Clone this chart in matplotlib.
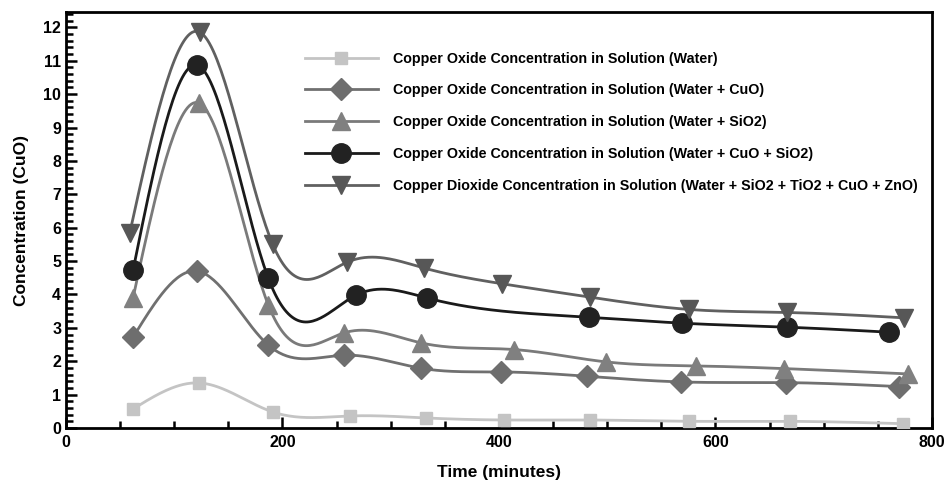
import numpy as np
import matplotlib.pyplot as plt
from matplotlib.ticker import MultipleLocator

# --- data ---
t_water = [62, 123, 191, 262, 333, 405, 484, 576, 669, 773]
c_water = [0.57, 1.35, 0.48, 0.36, 0.30, 0.24, 0.24, 0.20, 0.20, 0.13]

t_cuo = [62, 121, 187, 257, 328, 402, 481, 568, 665, 770]
c_cuo = [2.72, 4.70, 2.48, 2.18, 1.79, 1.68, 1.55, 1.38, 1.36, 1.24]

t_sio2 = [62, 123, 187, 257, 328, 414, 499, 582, 663, 778]
c_sio2 = [3.90, 9.73, 3.68, 2.85, 2.55, 2.35, 1.98, 1.86, 1.78, 1.62]

t_cuo_sio2 = [62, 121, 187, 268, 334, 483, 569, 666, 760]
c_cuo_sio2 = [4.73, 10.87, 4.48, 3.98, 3.89, 3.32, 3.14, 3.02, 2.87]

t_mix = [59, 124, 191, 260, 331, 403, 484, 576, 666, 774]
c_mix = [5.85, 11.85, 5.50, 4.97, 4.79, 4.32, 3.92, 3.55, 3.46, 3.30]

labels = [
    "Copper Oxide Concentration in Solution (Water)",
    "Copper Oxide Concentration in Solution (Water + CuO)",
    "Copper Oxide Concentration in Solution (Water + SiO2)",
    "Copper Oxide Concentration in Solution (Water + CuO + SiO2)",
    "Copper Dioxide Concentration in Solution (Water + SiO2 + TiO2 + CuO + ZnO)",
]


def spline(x, y, n=400):
    # natural cubic spline, just for the smooth line look
    x = np.asarray(x, float)
    y = np.asarray(y, float)
    k = len(x)
    h = np.diff(x)
    A = np.zeros((k, k))
    b = np.zeros(k)
    A[0, 0] = A[-1, -1] = 1
    for i in range(1, k - 1):
        A[i, i - 1] = h[i - 1]
        A[i, i] = 2 * (h[i - 1] + h[i])
        A[i, i + 1] = h[i]
        b[i] = 6 * ((y[i + 1] - y[i]) / h[i] - (y[i] - y[i - 1]) / h[i - 1])
    m = np.linalg.solve(A, b)
    xs = np.linspace(x[0], x[-1], n)
    j = np.clip(np.searchsorted(x, xs) - 1, 0, k - 2)
    dx = xs - x[j]
    hj = h[j]
    a = (m[j + 1] - m[j]) / (6 * hj)
    bb = m[j] / 2
    c = (y[j + 1] - y[j]) / hj - hj * (2 * m[j] + m[j + 1]) / 6
    return xs, y[j] + c * dx + bb * dx ** 2 + a * dx ** 3


plt.rcParams['font.family'] = ['Liberation Sans', 'DejaVu Sans']
plt.rcParams['font.weight'] = 'bold'

fig = plt.figure(figsize=(9.48, 4.84), dpi=100)
ax = fig.add_axes([0.0696, 0.1157, 0.9134, 0.8595])

series = [
    (t_water, c_water, 's', '#c4c4c4', '#c4c4c4', 9),
    (t_cuo, c_cuo, 'D', '#6e6e6e', '#707070', 11),
    (t_sio2, c_sio2, '^', '#808080', '#7a7a7a', 13),
    (t_cuo_sio2, c_cuo_sio2, 'o', '#222222', '#1a1a1a', 14),
    (t_mix, c_mix, 'v', '#575757', '#606060', 13),
]

for (tx, cy, mk, mc, lc, ms), lab in zip(series, labels):
    xs, ys = spline(tx, cy)
    ax.plot(xs, ys, color=lc, lw=2, zorder=2)
    ax.plot(tx, cy, ls='none', marker=mk, ms=ms, color=mc, mec=mc, zorder=3)
    ax.plot([], [], color=lc, lw=2, marker=mk, ms=ms, mfc=mc, mec=mc, label=lab)

ax.set_xlim(0, 800)
ax.set_ylim(0, 12.46)
ax.xaxis.set_major_locator(MultipleLocator(200))
ax.xaxis.set_minor_locator(MultipleLocator(50))
ax.yaxis.set_major_locator(MultipleLocator(1))
ax.yaxis.set_minor_locator(MultipleLocator(0.2))
ax.tick_params(which='both', direction='in', width=1.8, labelsize=11.5)
ax.tick_params(which='major', length=8)
ax.tick_params(which='minor', length=5)
ax.tick_params(axis='x', pad=5)
for s in ax.spines.values():
    s.set_linewidth(2)

ax.set_xlabel("Time (minutes)", fontsize=12.5, fontweight='bold', labelpad=11)
ax.set_ylabel("Concentration (CuO)", fontsize=12.5, fontweight='bold', labelpad=10)

leg = ax.legend(loc='upper left', bbox_to_anchor=(0.276, 0.905), frameon=False,
                fontsize=10.3, handlelength=5.1, handletextpad=1.05,
                labelspacing=1.25, borderaxespad=0, borderpad=0)
for txt in leg.get_texts():
    txt.set_fontweight('bold')

fig.savefig('out.png', dpi=100)
